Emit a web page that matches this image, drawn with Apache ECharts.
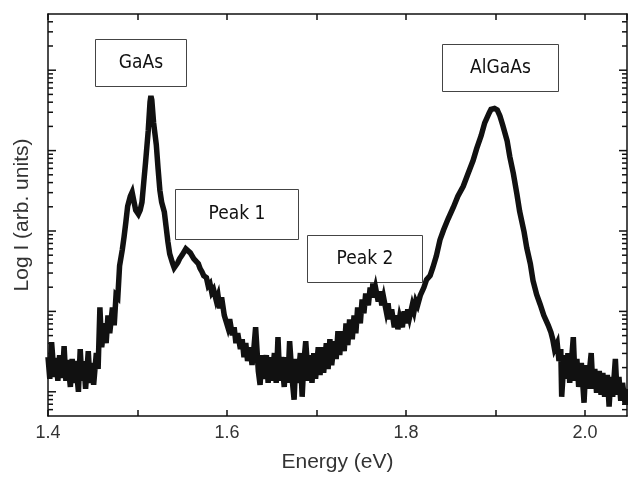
<!DOCTYPE html>
<html>
<head>
<meta charset="utf-8">
<title>PL spectrum</title>
<script src="https://cdn.jsdelivr.net/npm/echarts@6.0.0/dist/echarts.min.js"></script>
<style>
  html, body { margin: 0; padding: 0; background: #fff; }
  #chart { width: 628px; height: 478px; }
</style>
</head>
<body>
<div id="chart"></div>
<script>
// photon energy (eV)
const energy = [
  1.400, 1.402, 1.404, 1.407, 1.409, 1.411, 1.413, 1.416, 1.418, 1.420,
  1.422, 1.425, 1.427, 1.429, 1.431, 1.434, 1.436, 1.438, 1.440, 1.442,
  1.445, 1.447, 1.449, 1.451, 1.454, 1.456, 1.458, 1.460, 1.463, 1.465,
  1.467, 1.469, 1.472, 1.474, 1.476, 1.478, 1.480, 1.483, 1.485, 1.487,
  1.489, 1.492, 1.494, 1.496, 1.498, 1.501, 1.503, 1.505, 1.507, 1.509,
  1.512, 1.514, 1.515, 1.516, 1.518, 1.521, 1.523, 1.525, 1.527, 1.530,
  1.532, 1.534, 1.536, 1.539, 1.541, 1.543, 1.545, 1.547, 1.550, 1.552,
  1.554, 1.556, 1.559, 1.561, 1.563, 1.565, 1.568, 1.570, 1.572, 1.574,
  1.577, 1.579, 1.581, 1.583, 1.585, 1.588, 1.590, 1.592, 1.594, 1.597,
  1.599, 1.601, 1.603, 1.606, 1.608, 1.610, 1.612, 1.615, 1.617, 1.619,
  1.621, 1.623, 1.626, 1.628, 1.630, 1.632, 1.635, 1.637, 1.639, 1.641,
  1.644, 1.646, 1.648, 1.650, 1.653, 1.655, 1.657, 1.659, 1.661, 1.664,
  1.666, 1.668, 1.670, 1.673, 1.675, 1.677, 1.679, 1.682, 1.684, 1.686,
  1.688, 1.691, 1.693, 1.695, 1.697, 1.699, 1.702, 1.704, 1.706, 1.708,
  1.711, 1.713, 1.715, 1.717, 1.720, 1.722, 1.724, 1.726, 1.728, 1.731,
  1.733, 1.735, 1.737, 1.740, 1.742, 1.744, 1.746, 1.749, 1.751, 1.753,
  1.755, 1.758, 1.760, 1.762, 1.763, 1.764, 1.766, 1.769, 1.771, 1.773,
  1.775, 1.778, 1.780, 1.782, 1.784, 1.787, 1.789, 1.791, 1.793, 1.796,
  1.798, 1.800, 1.802, 1.804, 1.807, 1.809, 1.811, 1.813, 1.816, 1.818,
  1.820, 1.823, 1.827, 1.830, 1.834, 1.838, 1.842, 1.847, 1.853, 1.858,
  1.864, 1.869, 1.875, 1.879, 1.884, 1.888, 1.893, 1.895, 1.897, 1.899,
  1.902, 1.905, 1.908, 1.913, 1.916, 1.920, 1.924, 1.927, 1.932, 1.935,
  1.939, 1.942, 1.946, 1.950, 1.954, 1.959, 1.962, 1.964, 1.966, 1.969,
  1.971, 1.973, 1.974, 1.977, 1.979, 1.981, 1.983, 1.987, 1.989, 1.991,
  1.993, 1.996, 1.999, 2.001, 2.003, 2.007, 2.009, 2.011, 2.013, 2.016,
  2.018, 2.020, 2.022, 2.025, 2.027, 2.029, 2.031, 2.034, 2.036, 2.038,
  2.040, 2.042, 2.045, 2.047
];

// PL intensity (arb. units), log scale
const intensity = [
  27.0, 14.5, 41.4, 15.3, 26.3, 13.7, 28.6, 14.9, 37.0, 13.7,
  24.8, 11.5, 25.6, 12.9, 24.1, 10.0, 34.0, 13.7, 24.1, 10.9,
  32.1, 12.9, 22.8, 12.2, 30.3, 19.2, 112, 35.9, 71.1, 40.3,
  89.3, 53.5, 112, 67.2, 158, 149, 370, 583, 843, 1292,
  2035, 2704, 3030, 2344, 1817, 1621, 1817, 2281, 4026, 7112,
  17650, 40280, 47770, 42630, 22160, 11860, 5994, 3207, 2281, 1716,
  1121, 731, 520, 403, 349, 349, 403, 451, 505, 551,
  600, 583, 535, 520, 451, 438, 391, 340, 312, 278,
  263, 209, 222, 172, 187, 137, 158, 109, 149, 89.3,
  94.5, 63.5, 79.7, 50.6, 63.5, 40.3, 53.5, 34.0, 45.1, 27.0,
  40.3, 24.1, 35.9, 21.5, 34.0, 63.5, 18.2, 12.2, 28.6, 14.5,
  28.6, 12.9, 27.0, 13.7, 30.3, 12.9, 47.8, 13.7, 27.0, 11.5,
  27.0, 12.9, 42.6, 13.7, 7.97, 25.6, 12.9, 30.3, 8.68, 24.1,
  42.6, 13.7, 28.6, 12.9, 30.3, 14.5, 35.9, 16.2, 35.9, 17.2,
  40.3, 19.2, 45.1, 21.5, 42.6, 25.6, 56.6, 28.6, 56.6, 32.1,
  71.1, 38.0, 79.7, 45.1, 89.3, 53.5, 112, 71.1, 141, 94.5,
  167, 119, 198, 149, 222, 158, 198, 133, 177, 119,
  149, 100, 126, 79.7, 106, 63.5, 89.3, 60.0, 84.3, 63.5,
  100, 71.1, 106, 84.3, 119, 100, 133, 119, 158, 158,
  198, 248, 278, 349, 491, 774, 1029, 1407, 1978, 2704,
  3594, 5055, 7526, 10590, 15310, 22160, 29460, 32550, 33960, 33400,
  32080, 27040, 20940, 13290, 8430, 5199, 2863, 1765, 972, 617,
  391, 241, 162, 122, 89.3, 67.2, 55.0, 45.1, 34.0, 40.3,
  24.1, 34.0, 8.68, 28.6, 14.5, 30.3, 12.9, 47.8, 13.7, 25.6,
  11.5, 22.8, 7.32, 21.5, 10.9, 30.3, 10.9, 19.2, 9.72, 18.2,
  9.18, 17.2, 8.68, 16.2, 6.53, 15.3, 8.68, 25.6, 9.18, 15.3,
  7.74, 12.9, 6.91, 10.9
];

// log-axis tick positions (no labels on this axis)
const yMajorTicks = [10, 100, 1000, 10000, 100000];
const yMinorTicks = [
  6, 7, 8, 9,
  20, 30, 40, 50, 60, 70, 80, 90,
  200, 300, 400, 500, 600, 700, 800, 900,
  2000, 3000, 4000, 5000, 6000, 7000, 8000, 9000,
  20000, 30000, 40000, 50000, 60000, 70000, 80000, 90000,
  200000, 300000, 400000
];

// peak labels and their boxes (pixels)
const peakLabels = ['GaAs', 'Peak 1', 'Peak 2', 'AlGaAs'];
const peakBoxes = [
  { x: 95, y: 39, w: 91, h: 47 },
  { x: 175, y: 189, w: 123, h: 50 },
  { x: 307, y: 235, w: 115, h: 47 },
  { x: 442, y: 44, w: 116, h: 47 }
];

const chart = echarts.init(document.getElementById('chart'));

const axisColor = '#111';
const labelFont = 'Liberation Sans, Arial, sans-serif';
const tickData = yMajorTicks.map(v => [v, 1]).concat(yMinorTicks.map(v => [v, 0]));

const option = {
  animation: false,
  backgroundColor: '#fff',
  grid: { left: 48, right: 1, top: 14, bottom: 59 },
  xAxis: [
    {
      type: 'value',
      min: 1.4,
      max: 2.047,
      interval: 0.1,
      position: 'bottom',
      axisLine: { show: true, lineStyle: { color: axisColor, width: 1.5 } },
      axisTick: { show: true, inside: true, length: 6, lineStyle: { color: axisColor, width: 1.5 } },
      axisLabel: {
        margin: 8,
        color: '#333',
        fontSize: 18,
        fontFamily: labelFont,
        showMaxLabel: false,
        formatter: function (v) {
          const k = Math.round(v * 10);
          if (Math.abs(v * 10 - k) > 1e-6 || k % 2 !== 0) return '';
          return v.toFixed(1);
        }
      },
      splitLine: { show: false },
      name: 'Energy (eV)',
      nameLocation: 'middle',
      nameGap: 36,
      nameTextStyle: { color: '#333', fontSize: 21, fontFamily: labelFont }
    },
    {
      type: 'value',
      min: 1.4,
      max: 2.047,
      interval: 0.1,
      position: 'top',
      axisLine: { show: true, lineStyle: { color: axisColor, width: 1.5 } },
      axisTick: { show: true, inside: true, length: 6, lineStyle: { color: axisColor, width: 1.5 } },
      axisLabel: { show: false },
      splitLine: { show: false }
    }
  ],
  yAxis: [
    {
      type: 'log',
      logBase: 10,
      min: 5,
      max: 500000,
      position: 'left',
      axisLine: { show: true, lineStyle: { color: axisColor, width: 1.5 } },
      axisTick: { show: false },
      axisLabel: { show: false },
      splitLine: { show: false },
      name: 'Log I (arb. units)',
      nameLocation: 'middle',
      nameGap: 15,
      nameTextStyle: { color: '#333', fontSize: 21, fontFamily: labelFont }
    },
    {
      type: 'log',
      logBase: 10,
      min: 5,
      max: 500000,
      position: 'right',
      axisLine: { show: true, lineStyle: { color: axisColor, width: 1.5 } },
      axisTick: { show: false },
      axisLabel: { show: false },
      splitLine: { show: false }
    }
  ],
  series: [
    {
      // log ticks on the left and right frame
      type: 'custom',
      xAxisIndex: 0,
      yAxisIndex: 0,
      silent: true,
      clip: false,
      data: tickData,
      renderItem: function (params, api) {
        const cs = params.coordSys;
        const y = api.coord([1.4, api.value(0)])[1];
        const len = api.value(1) ? 8 : 5;
        const style = { stroke: axisColor, lineWidth: 1.5 };
        return {
          type: 'group',
          children: [
            { type: 'line', shape: { x1: cs.x, y1: y, x2: cs.x + len, y2: y }, style: style },
            { type: 'line', shape: { x1: cs.x + cs.width - len, y1: y, x2: cs.x + cs.width, y2: y }, style: style }
          ]
        };
      },
      encode: { x: -1, y: 0 }
    },
    {
      name: 'PL',
      type: 'line',
      xAxisIndex: 0,
      yAxisIndex: 0,
      data: energy.map((e, i) => [e, intensity[i]]),
      showSymbol: false,
      symbol: 'none',
      sampling: null,
      smooth: false,
      clip: true,
      lineStyle: { color: '#111', width: 5.5, join: 'miter', miterLimit: 5 },
      z: 3
    }
  ],
  graphic: peakBoxes.map((b, i) => ({
    type: 'group',
    left: b.x,
    top: b.y,
    z: 10,
    children: [
      {
        type: 'rect',
        shape: { x: 0, y: 0, width: b.w, height: b.h },
        style: { fill: '#fff', stroke: '#444', lineWidth: 1 }
      },
      {
        type: 'text',
        x: b.w / 2,
        y: b.h / 2,
        style: {
          text: peakLabels[i],
          fill: '#111',
          font: '19px "DejaVu Sans Condensed", "DejaVu Sans", sans-serif',
          align: 'center',
          verticalAlign: 'middle'
        }
      }
    ]
  }))
};

chart.setOption(option);
</script>
</body>
</html>
